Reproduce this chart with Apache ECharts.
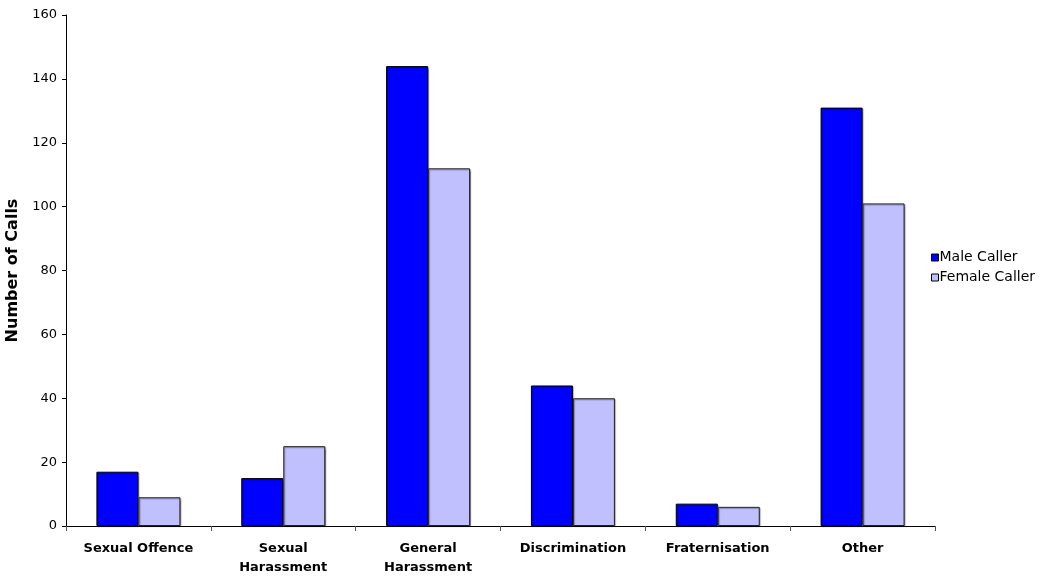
<!DOCTYPE html>
<html>
<head>
<meta charset="utf-8">
<script src="https://cdn.jsdelivr.net/npm/echarts@6/dist/echarts.min.js"></script>
<style>
  html, body { margin: 0; padding: 0; background: #fff; }
  #chart { width: 1045px; height: 577px; }
</style>
</head>
<body>
<div id="chart"></div>
<script>
// Calls by complaint type, split by caller gender
const categories = ['Sexual Offence', 'Sexual\nHarassment', 'General\nHarassment', 'Discrimination', 'Fraternisation', 'Other'];
const maleCaller = [17, 15, 144, 44, 7, 131];
const femaleCaller = [9, 25, 112, 40, 6, 101];
const yTicks = { min: 0, max: 160, interval: 20 };

const font = 'Tahoma, "DejaVu Sans", Verdana, sans-serif';
const chart = echarts.init(document.getElementById('chart'), null, { renderer: 'canvas' });

chart.setOption({
  animation: false,
  backgroundColor: '#ffffff',
  textStyle: { fontFamily: font },
  grid: { left: 66, right: 110, top: 15, bottom: 51, containLabel: false, outerBoundsMode: 'none' },
  legend: {
    orient: 'vertical',
    left: 926,
    top: 245,
    itemWidth: 7,
    itemHeight: 7,
    itemGap: 5,
    icon: 'rect',
    itemStyle: { borderColor: '#000', borderWidth: 1 },
    textStyle: { fontFamily: font, fontSize: 14, lineHeight: 15, color: '#000', padding: [0, 0, 0, -4] },
    data: ['Male Caller', 'Female Caller']
  },
  xAxis: {
    type: 'category',
    data: categories,
    axisLine: { lineStyle: { color: '#000', width: 1 } },
    axisTick: { show: true, alignWithLabel: false, length: 5, inside: false, lineStyle: { color: '#555' } },
    axisLabel: {
      interval: 0,
      fontFamily: font,
      fontSize: 13,
      fontWeight: 'bold',
      color: '#000',
      margin: 13,
      lineHeight: 19
    }
  },
  yAxis: {
    type: 'value',
    min: yTicks.min,
    max: yTicks.max,
    interval: yTicks.interval,
    name: 'Number of Calls',
    nameLocation: 'middle',
    nameGap: 44,
    nameRotate: 90,
    nameTextStyle: { fontFamily: font, fontSize: 16, fontWeight: 'bold', color: '#000' },
    axisLine: { show: true, lineStyle: { color: '#000', width: 1 } },
    axisTick: { show: true, length: 4, lineStyle: { color: '#000' } },
    axisLabel: { fontFamily: font, fontSize: 13, color: '#000', margin: 9 },
    splitLine: { show: false }
  },
  series: [
    {
      name: 'Male Caller',
      type: 'bar',
      data: maleCaller,
      barWidth: 42,
      barGap: '0%',
      itemStyle: { color: '#0000ff', borderColor: '#000', borderWidth: 1,
        shadowColor: 'rgba(0,0,0,0.35)', shadowOffsetX: 1, shadowOffsetY: 1, shadowBlur: 1 }
    },
    {
      name: 'Female Caller',
      type: 'bar',
      data: femaleCaller,
      barWidth: 42,
      barGap: '0%',
      itemStyle: { color: '#c0c0ff', borderColor: '#222', borderWidth: 1,
        shadowColor: 'rgba(0,0,0,0.35)', shadowOffsetX: 1, shadowOffsetY: 1, shadowBlur: 1 }
    }
  ]
});
</script>
</body>
</html>
